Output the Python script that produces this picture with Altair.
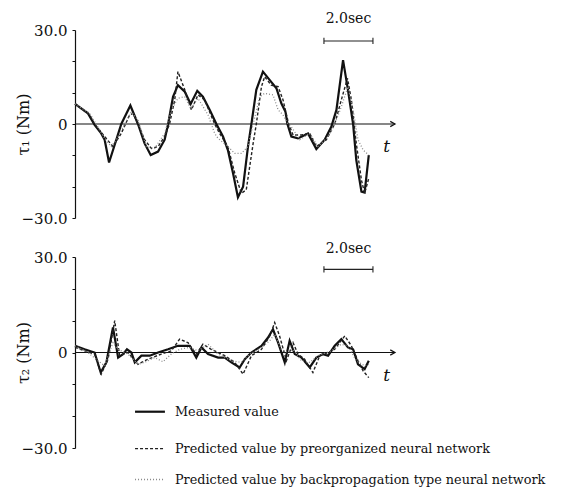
import altair as alt
import pandas as pd

# ---------------- data (t in seconds, torque in Nm) ----------------
# Upper panel (tau1)
t1_meas_t = [0, 0.53, 0.80, 1.07, 1.21, 1.39, 1.89, 2.26, 2.57, 2.84, 3.09, 3.39, 3.66, 3.80, 4.00, 4.20,
             4.48, 4.72, 4.99, 5.22, 5.50, 5.77, 6.04, 6.24, 6.45, 6.65, 6.86, 7.06, 7.20, 7.40, 7.67,
             7.95, 8.22, 8.42, 8.59, 8.67, 8.83, 9.10, 9.51, 9.85, 10.19, 10.46, 10.67, 10.94, 11.14,
             11.35, 11.48, 11.69, 11.82, 11.99]
t1_meas_v = [6.4, 3.4, -0.3, -3, -5, -12.3, 0, 5.9, 0, -6.2, -9.9, -8.8, -5, 0, 8.7, 12.4,
             10.3, 6.4, 10.6, 8.7, 4.5, 0, -4, -8.3, -15.7, -23.4, -20, -7.2, 0, 10.9, 16.7,
             14, 11.4, 6.6, 3.9, 0, -4, -4.6, -3, -8, -5, -0.9, 4.5, 20.4, 10.9,
             0, -11.5, -21.6, -21.9, -9.9]

t1_pre_t = [0, 0.60, 0.80, 1.21, 1.55, 1.89, 2.23, 2.37, 2.57, 2.84, 3.12, 3.39, 3.66, 3.86, 4.07,
            4.20, 4.48, 4.75, 5.02, 5.29, 5.70, 5.90, 6.24, 6.52, 6.79, 6.99, 7.27, 7.40, 7.61, 7.74,
            8.01, 8.29, 8.49, 8.72, 8.90, 9.24, 9.58, 9.85, 10.26, 10.60, 10.87, 11.12, 11.28, 11.48,
            11.69, 11.82, 11.99]
t1_pre_v = [6.4, 2.9, 0, -4, -7.2, -3, 2.9, 3.4, 0, -5, -7.8, -7.2, -4, 0, 7.7,
            16.7, 10.9, 4.5, 9.3, 7.7, 0, -3, -7.2, -15.7, -22.1, -21, -6.2, 0, 11.9, 15.1,
            12.4, 11.9, 7.7, 0, -3.5, -3.5, -3, -7.2, -5, 0, 7.7, 14.6, 7.7, -6.2,
            -17.9, -22.1, -17.3]

t1_bp_t = [0, 0.60, 1.21, 1.48, 1.69, 2.03, 2.30, 2.57, 2.91, 3.25, 3.66, 3.93, 4.20, 4.48, 4.72,
           5.02, 5.43, 5.70, 5.84, 6.24, 6.52, 6.79, 7.06, 7.27, 7.54, 7.74, 8.08, 8.29, 8.49, 8.69,
           8.83, 9.17, 9.58, 9.92, 10.33, 10.60, 10.87, 11.14, 11.35, 11.55, 11.76, 11.99]
t1_bp_v = [6.4, 3.4, -4.6, -7.2, -5, 0, 3.9, 1.3, -7.2, -7.8, -3, 4.5, 8.2, 8.7, 5,
           8.2, 2.9, -3, -4.6, -7.2, -9.4, -9.4, -7.2, 0, 8.7, 9.8, 9.3, 4.5, 2.9, 0,
           -0.9, -5, -3, -7.2, -4, 0, 5.5, 11.9, 4.5, -5, -8.3, -9.9]

# Lower panel (tau2)
t2_meas_t = [0, 0.39, 0.80, 1.05, 1.28, 1.55, 1.76, 1.96, 2.12, 2.30, 2.44, 2.71, 3.05, 3.39, 3.80,
             4.20, 4.41, 4.68, 4.95, 5.16, 5.43, 5.84, 6.11, 6.38, 6.72, 6.93, 7.20, 7.61, 7.88, 8.08,
             8.29, 8.56, 8.76, 8.97, 9.24, 9.58, 9.85, 10.12, 10.33, 10.60, 10.87, 11.14, 11.35, 11.55,
             11.82, 11.99]
t2_meas_v = [2.1, 1, 0, -6.3, -3.1, 7.9, -1.6, -0.5, 1, 0, -3.1, -1, -1, 0, 1,
             2.1, 2.1, 2.1, -1.6, 1.6, -0.5, -1.6, -1.6, -3.1, -4.7, -2.1, 0, 2.1, 4.7, 7.3,
             3.1, -3.1, 3.7, -0.5, -1.6, -4.7, -1.6, -0.5, -1, 2.1, 4.2, 1.6, 1, -3.7,
             -5.2, -2.6]

t2_pre_t = [0, 0.39, 0.80, 1.07, 1.35, 1.62, 1.82, 2.16, 2.57, 2.98, 3.52, 3.93, 4.27, 4.61, 4.95,
            5.22, 5.56, 6.11, 6.52, 6.86, 7.20, 7.61, 7.95, 8.15, 8.35, 8.63, 8.90, 9.10, 9.37, 9.71,
            9.99, 10.33, 10.60, 11.01, 11.28, 11.55, 11.76, 11.99]
t2_pre_v = [1.6, 0.5, -0.5, -6.8, -2.1, 10, -1, 0, -3.7, -2.1, -0.5, 0.5, 4.2, 3.1, -0.5,
            2.6, 1, -1, -3.1, -6.8, -1, 1, 5.2, 9.4, 5.2, -2.6, 3.1, -0.5, -2.1, -6.3,
            -1, 0, 1, 5.2, 2.1, -2.6, -5.8, -7.9]

t2_bp_t = [0, 0.53, 0.94, 1.21, 1.55, 1.76, 2.16, 2.57, 2.84, 3.25, 3.59, 3.93, 4.27, 4.68, 5.02,
           5.43, 5.84, 6.38, 6.79, 7.13, 7.61, 7.95, 8.15, 8.42, 8.69, 8.90, 9.24, 9.58, 9.92, 10.46,
           10.87, 11.14, 11.48, 11.82, 11.99]
t2_bp_v = [2.1, 0, -2.6, -4.2, 3.1, 1, -0.5, -3.7, -3.1, -1.6, -2.9, -0.5, 1, 1.6, 0.5,
           2.6, -0.5, -2.6, -3.1, -0.5, 1.6, 3.7, 5.8, 1, 0, 1, -2.6, -3.1, -1, 0.5,
           2.6, 2.1, -2.6, -4.2, -3.7]

series_labels = ["Measured value",
                 "Predicted value by preorganized neural network",
                 "Predicted value by backpropagation type neural network"]
y_tick_values = [-30, -20, -10, 0, 10, 20, 30]
scale_bar_label = "2.0sec"
scale_bar_len = 2.0

# ---------------- styling ----------------
FONT = "DejaVu Serif"
X_MAX = 13.06
STYLES = [
    dict(color="#111111", strokeWidth=2.2),
    dict(color="#222222", strokeWidth=1.4, strokeDash=[3, 2]),
    dict(color="#8a8a8a", strokeWidth=1.3, strokeDash=[1, 2]),
]

xenc = alt.X("t:Q", scale=alt.Scale(domain=[0, X_MAX], nice=False, zero=False), axis=None)
x2enc = alt.X2("t2:Q")


def yenc(title, height):
    return alt.Y(
        "v:Q",
        scale=alt.Scale(domain=[-30, 30], nice=False, zero=False),
        axis=alt.Axis(
            values=y_tick_values,
            labelExpr="datum.value == 30 ? '30.0' : datum.value == -30 ? '\u221230.0' : datum.value == 0 ? '0' : ''",
            title=title,
            titleX=-44,
            titleY=height / 2,
            titleAngle=-90,
            titleAlign="center",
            titleBaseline="bottom",
            grid=False,
        ),
    )


def panel(series, title, height, bar_v, bar_text_v, with_legend=False):
    y = yenc(title, height)
    layers = []
    # zero line with arrow
    zero = pd.DataFrame({"t": [0.0], "t2": [X_MAX], "v": [0.0]})
    layers.append(alt.Chart(zero).mark_rule(color="#111", strokeWidth=1.2).encode(x=xenc, x2=x2enc, y=y))
    arrow = pd.DataFrame({"t": [X_MAX], "v": [0.0]})
    layers.append(alt.Chart(arrow).mark_point(shape="M-1,-0.55L0,0L-1,0.55", filled=False, size=90,
                                              color="#111", strokeWidth=1.2, opacity=1).encode(x=xenc, y=y))
    tl = pd.DataFrame({"t": [12.72], "v": [-7.3], "s": ["t"]})
    layers.append(alt.Chart(tl).mark_text(font=FONT, fontSize=17, fontStyle="italic", color="#111")
                  .encode(x=xenc, y=y, text="s:N"))
    # data lines
    for (tt, vv), style, lab in zip(series, STYLES, series_labels):
        df = pd.DataFrame({"t": tt, "v": vv, "series": lab})
        layers.append(alt.Chart(df).mark_line(**style).encode(x=xenc, y=y, order="t:Q"))
    # scale bar
    b0 = X_MAX - 2.9
    bar = pd.DataFrame({"t": [b0], "t2": [b0 + scale_bar_len], "v": [bar_v]})
    layers.append(alt.Chart(bar).mark_rule(color="#222", strokeWidth=1.1).encode(x=xenc, x2=x2enc, y=y))
    ends = pd.DataFrame({"t": [b0, b0 + scale_bar_len], "v": [bar_v - 1.0] * 2, "v2": [bar_v + 1.0] * 2})
    layers.append(alt.Chart(ends).mark_rule(color="#222", strokeWidth=1.1).encode(x=xenc, y=y, y2="v2:Q"))
    bt = pd.DataFrame({"t": [b0 + scale_bar_len / 2], "v": [bar_text_v], "s": [scale_bar_label]})
    layers.append(alt.Chart(bt).mark_text(font=FONT, fontSize=14, color="#111")
                  .encode(x=xenc, y=y, text="s:N"))
    if with_legend:
        rows_v = [-18.6, -30.2, -39.9]
        for lab, style, rv in zip(series_labels, STYLES, rows_v):
            seg = pd.DataFrame({"t": [2.45], "t2": [3.67], "v": [rv]})
            layers.append(alt.Chart(seg).mark_rule(**style).encode(x=xenc, x2=x2enc, y=y))
            txt = pd.DataFrame({"t": [4.08], "v": [rv], "s": [lab]})
            layers.append(alt.Chart(txt).mark_text(font=FONT, fontSize=12.8, align="left", color="#111")
                          .encode(x=xenc, y=y, text="s:N"))
    return alt.layer(*layers).properties(width=320, height=height)


top = panel([(t1_meas_t, t1_meas_v), (t1_pre_t, t1_pre_v), (t1_bp_t, t1_bp_v)],
            "\u03c4\u2081 (Nm)", 188, 26.5, 33.5)
bottom = panel([(t2_meas_t, t2_meas_v), (t2_pre_t, t2_pre_v), (t2_bp_t, t2_bp_v)],
               "\u03c4\u2082 (Nm)", 191, 26.1, 32.5, with_legend=True)

chart = (
    alt.vconcat(top, bottom, spacing=39, bounds="flush")
    .properties(padding={"left": 7, "top": 4, "right": 0, "bottom": 0}, background="white")
    .configure_view(stroke=None)
    .configure_axis(
        domainColor="#111", domainWidth=1.2, tickColor="#111", tickSize=3, tickWidth=1,
        labelFont=FONT, labelFontSize=15, labelColor="#111", labelPadding=5,
        titleFont=FONT, titleFontSize=16, titleFontWeight="normal", titleColor="#111",
    )
)

chart.save("out.html", embed_options={"renderer": "svg", "actions": False})
